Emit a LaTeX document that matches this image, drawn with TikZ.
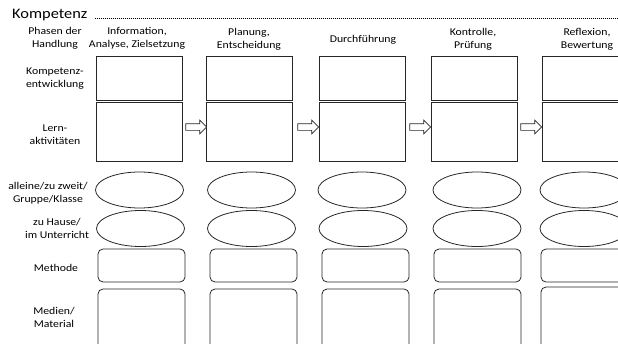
\documentclass[tikz,border=0pt]{standalone}
\usepackage{fontspec}
\setmainfont{Carlito}[FakeStretch=1.13]
\usetikzlibrary{shapes.geometric,shapes.arrows}
\begin{document}
\begin{tikzpicture}[x=1pt,y=-1pt,
  lbl/.style={align=center,font=\fontsize{10.4}{13}\selectfont,inner sep=0pt},
  sqbox/.style={draw=black!85,line width=0.8pt,minimum width=86pt,inner sep=0pt},
  ellbox/.style={draw=black!85,line width=0.8pt,ellipse,minimum width=88pt,minimum height=36pt,inner sep=0pt},
  rbox/.style={draw=black!85,line width=0.8pt,rounded corners=5pt,minimum width=87pt,inner sep=0pt},
  barrow/.style={draw=black!85,fill=white,line width=0.7pt,single arrow,minimum height=21pt,single arrow head extend=3.5pt,inner xsep=0pt,inner ysep=3pt,shape border rotate=0}]
\useasboundingbox (0,0) rectangle (618,343);
\clip (0,0) rectangle (618,343);
% title
\node[anchor=base west,inner sep=0pt,font=\fontsize{14.5}{16}\selectfont] (title) at (12,18) {Kompetenz};
\coordinate (dotend) at (618,18);
\draw[line width=1pt,dash pattern=on 1pt off 1pt] (title.base east) ++(7,0) coordinate (dotstart) -- (dotend);
% left labels
\node[lbl] (lphase) at (55,38.5) {Phasen der\\Handlung};
\node[lbl] (lkomp) at (55,79) {Kompetenz-\\entwicklung};
\node[lbl] (llern) at (55,134.5) {Lern-\\aktivitäten};
\node[lbl] (lsoz) at (48,193.5) {alleine/zu zweit/\\Gruppe/Klasse};
\node[lbl] (lort) at (57,228.5) {zu Hause/\\im Unterricht};
\node[lbl] (lmeth) at (56,268) {Methode};
\node[lbl] (lmed) at (54,317) {Medien/\\Material};
% headers
\node[lbl] (h1) at (137,38.5) {Information,\\Analyse, Zielsetzung};
\node[lbl] (h2) at (249,39) {Planung,\\Entscheidung};
\node[lbl] (h3) at (363,40) {Durchführung};
\node[lbl] (h4) at (473,39.5) {Kontrolle,\\Prüfung};
\node[lbl] (h5) at (587,39.5) {Reflexion,\\Bewertung};
% Kompetenzentwicklung boxes
\node[sqbox,minimum height=44pt] (k1) at (139,78) {};
\node[sqbox,minimum height=44pt] (k2) at (249,78) {};
\node[sqbox,minimum height=44pt] (k3) at (362,78) {};
\node[sqbox,minimum height=44pt] (k4) at (474,78) {};
\node[sqbox,minimum height=44pt] (k5) at (585,78) {};
% Lernaktivitaeten boxes
\node[sqbox,minimum height=59pt] (a1) at (139,131.5) {};
\node[sqbox,minimum height=59pt] (a2) at (249,131.5) {};
\node[sqbox,minimum height=59pt] (a3) at (362,131.5) {};
\node[sqbox,minimum height=59pt] (a4) at (474,131.5) {};
\node[sqbox,minimum height=59pt] (a5) at (585,131.5) {};
% block arrows
\node[barrow] (p1) at (194.5,127) {};
\node[barrow] (p2) at (306.5,127) {};
\node[barrow] (p3) at (418.5,127) {};
\node[barrow] (p4) at (529.5,127) {};
% Sozialform ellipses
\node[ellbox] (s1) at (139.5,190) {};
\node[ellbox] (s2) at (251.5,190) {};
\node[ellbox] (s3) at (362,190) {};
\node[ellbox] (s4) at (477,190) {};
\node[ellbox] (s5) at (584,190) {};
% Lernort ellipses
\node[ellbox] (o1) at (140.5,228.5) {};
\node[ellbox] (o2) at (251.5,228.5) {};
\node[ellbox] (o3) at (363,228.5) {};
\node[ellbox] (o4) at (477,228.5) {};
\node[ellbox] (o5) at (584,228.5) {};
% Methode
\node[rbox,minimum height=33pt] (m1) at (141.5,265.5) {};
\node[rbox,minimum height=33pt] (m2) at (253.5,265.5) {};
\node[rbox,minimum height=33pt] (m3) at (365.5,265.5) {};
\node[rbox,minimum height=33pt] (m4) at (477.5,265.5) {};
\node[rbox,minimum height=33pt] (m5) at (584.5,265.5) {};
% Medien
\node[rbox,minimum height=66pt] (d1) at (141.5,322) {};
\node[rbox,minimum height=66pt] (d2) at (253.5,322) {};
\node[rbox,minimum height=66pt] (d3) at (365.5,322) {};
\node[rbox,minimum height=66pt] (d4) at (477.5,322) {};
\node[rbox,minimum height=66pt] (d5) at (584.5,320) {};
\end{tikzpicture}
\end{document}
